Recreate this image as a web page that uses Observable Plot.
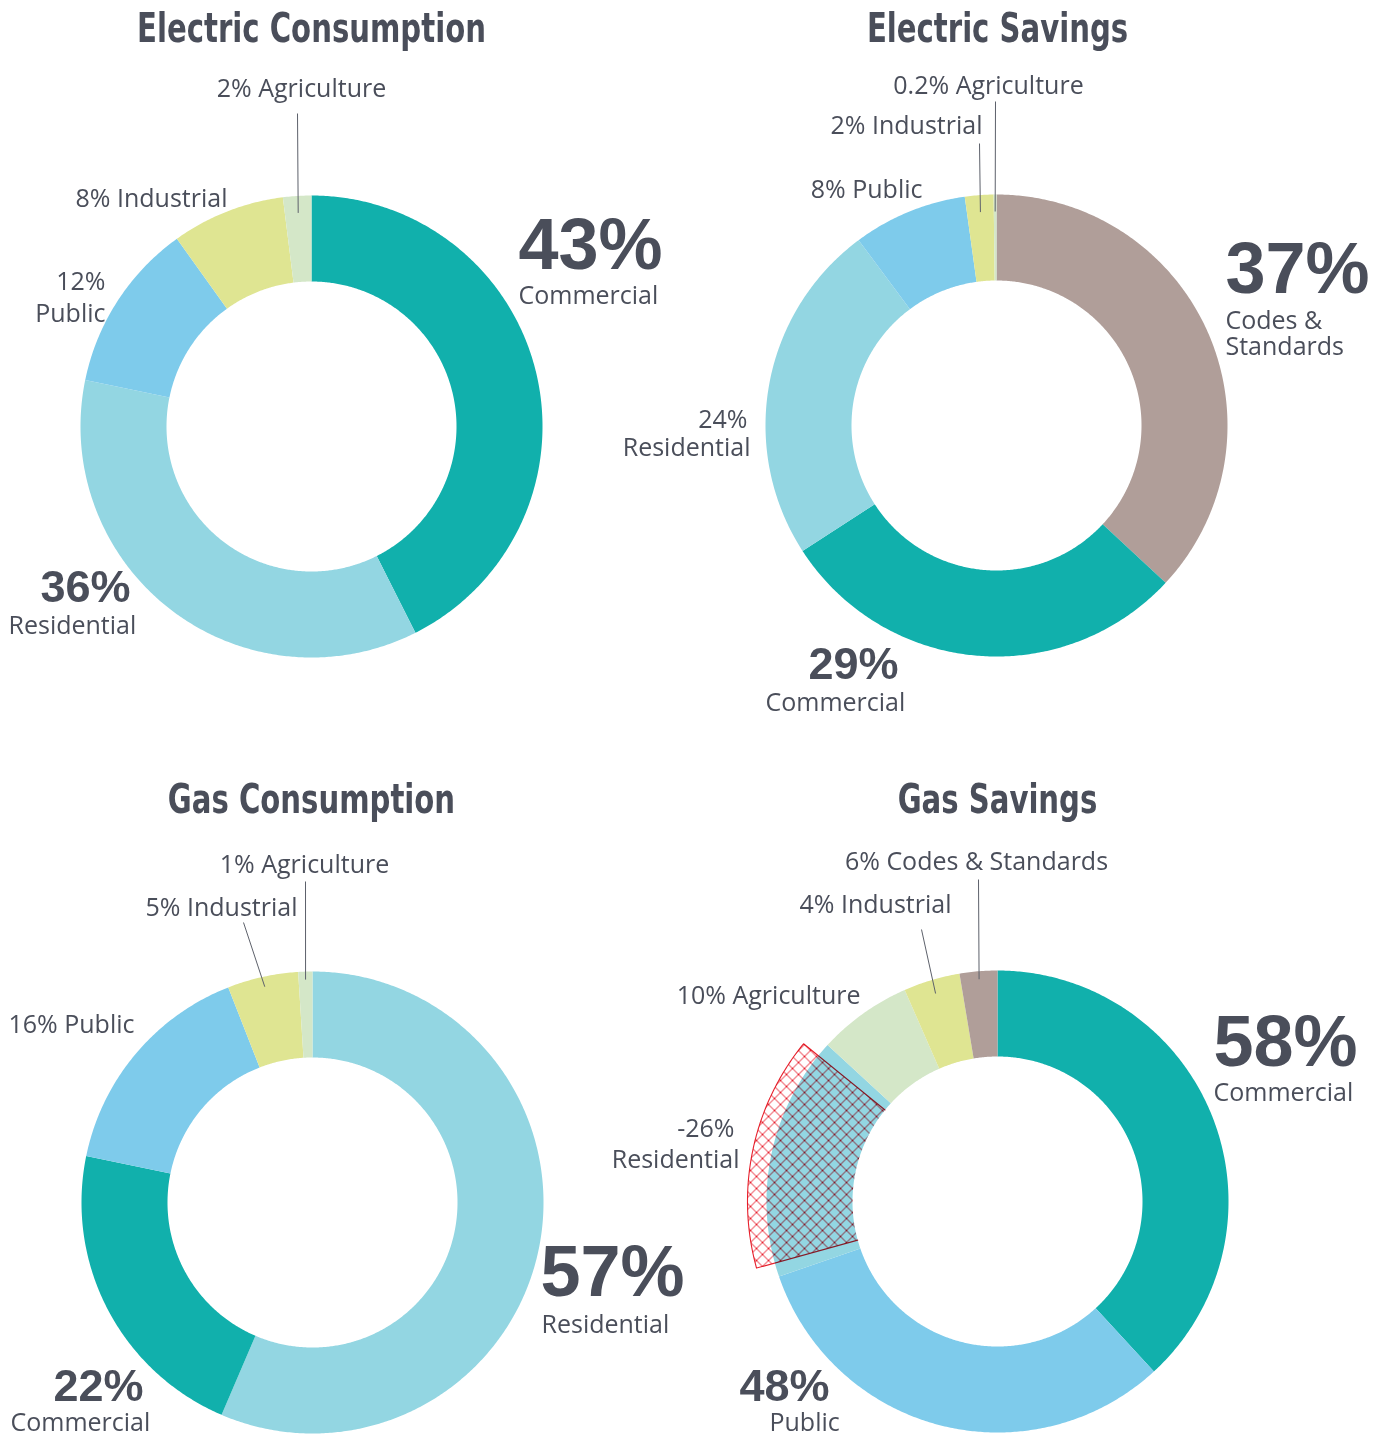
<!DOCTYPE html>
<html><head><meta charset="utf-8">
<script src="https://cdn.jsdelivr.net/npm/d3@7"></script>
<script src="https://cdn.jsdelivr.net/npm/@observablehq/plot@0.6"></script>
<style>
body{margin:0;background:#fff}
#chart svg{display:block}
g[font-family^="'DejaVu Sans Condensed'"]{font-stretch:condensed}
</style>
</head><body><div id="chart"></div>
<script>
// ---------- data ----------
const elecConsCategories = ["Commercial", "Residential", "Public", "Industrial", "Agriculture"];
const elecConsValues = [43, 36, 12, 8, 2];

const elecSavCategories = ["Codes & Standards", "Commercial", "Residential", "Public", "Industrial", "Agriculture"];
const elecSavValues = [37, 29, 24, 8, 2, 0.2];

const gasConsCategories = ["Residential", "Commercial", "Public", "Industrial", "Agriculture"];
const gasConsValues = [57, 22, 16, 5, 1];

const gasSavCategories = ["Commercial", "Public", "Residential", "Agriculture", "Industrial", "Codes & Standards"];
const gasSavValues = [58, 48, -26, 10, 4, 6];
// slice sizes as drawn in the Gas Savings ring (absolute shares)
const gasSavDrawn = [58, 48, 26, 10, 6, 4];

const chartTitles = ["Electric Consumption", "Electric Savings", "Gas Consumption", "Gas Savings"];

// ---------- styles / layout ----------
const palette = {
  "Commercial": "#11b0ac",
  "Residential": "#93d6e2",
  "Public": "#7ecbeb",
  "Industrial": "#dfe592",
  "Agriculture": "#d4e7c8",
  "Codes & Standards": "#b09e99"
};
const INK = "#4a4e5a";
const LINE = "#5d616b";
const HATCH = "#e8212e";
const R_OUT = 231, R_IN = 145;
const W = 1376, H = 1435;
const TITLE_WIDTH = 349; // rendered width of the first title in the reference

const charts = [
  {title: chartTitles[0], cats: elecConsCategories, sizes: elecConsValues, cx: 311, cy: 426},
  {title: chartTitles[1], cats: elecSavCategories, sizes: elecSavValues, cx: 996, cy: 425},
  {title: chartTitles[2], cats: gasConsCategories, sizes: gasConsValues, cx: 312, cy: 1202},
  {title: chartTitles[3], cats: gasSavCategories, sizes: gasSavDrawn, cx: 997, cy: 1201}
];

const pie = d3.pie().sort(null).startAngle(0).endAngle(2 * Math.PI);
const slicesByChart = charts.map(c => pie(c.sizes).map((a, i) => ({...a, cat: c.cats[i], chart: c})));

function arcPoints(key, color, c, a0, a1, r) {
  const pts = [];
  const n = Math.max(2, Math.ceil(Math.abs(a1 - a0) / (Math.PI / 360)));
  for (let k = 0; k <= n; k++) {
    const a = a0 + (a1 - a0) * k / n;
    pts.push({key, color, x: c.cx + r * Math.sin(a), y: c.cy - r * Math.cos(a)});
  }
  return pts;
}
function ringPoints(key, color, c, a0, a1, r0, r1) {
  return [...arcPoints(key, color, c, a0, a1, r1), ...arcPoints(key, color, c, a1, a0, r0)];
}

const slicePts = [];
slicesByChart.forEach((sl, ci) => sl.forEach((s, i) =>
  slicePts.push(...ringPoints(`${ci}-${i}`, palette[s.cat], s.chart, s.startAngle, s.endAngle, R_IN, R_OUT))));

// hatched overlay for the negative Residential share in Gas Savings
const resSlice = slicesByChart[3][gasSavValues.findIndex(v => v < 0)];
const inset = 3.5 * Math.PI / 180;
const hA0 = resSlice.startAngle + inset, hA1 = resSlice.endAngle - inset, hR = 250;
const hatchPts = ringPoints("hatch", "none", charts[3], hA0, hA1, R_IN, hR);
const hatchOutline = [
  ...arcPoints("o", "none", charts[3], hA0, hA0, R_IN).slice(0, 1),
  ...arcPoints("o", "none", charts[3], hA0, hA1, hR),
  ...arcPoints("o", "none", charts[3], hA1, hA1, R_IN).slice(0, 1)
];

// leader lines: from label to the middle of the slice
function sliceMid(ci, cat, r) {
  const s = slicesByChart[ci].find(d => d.cat === cat);
  const a = (s.startAngle + s.endAngle) / 2, c = charts[ci];
  return {x: c.cx + r * Math.sin(a), y: c.cy - r * Math.cos(a)};
}
const leaders = [
  {ci: 0, cat: "Agriculture", x1: 297, y1: 113, r: 214},
  {ci: 1, cat: "Agriculture", x1: 995, y1: 101, r: 214},
  {ci: 1, cat: "Industrial", x1: 979, y1: 143, r: 214},
  {ci: 2, cat: "Agriculture", x1: 305, y1: 881, r: 223},
  {ci: 2, cat: "Industrial", x1: 243, y1: 922, r: 221},
  {ci: 3, cat: "Codes & Standards", x1: 978, y1: 879, r: 223},
  {ci: 3, cat: "Industrial", x1: 921, y1: 929, r: 217}
].map(d => { const m = sliceMid(d.ci, d.cat, d.r); return {...d, x2: m.x, y2: m.y}; });

// text labels (kind: T = title, B = big percent, M = medium percent, S = small label)
const pct = v => `${v}%`;
const labels = [
  // Electric Consumption
  {t: chartTitles[0], x: 311, y: 41, a: "middle", k: "T"},
  {t: `${pct(elecConsValues[4])} Agriculture`, x: 301, y: 96, a: "middle", k: "S"},
  {t: `${pct(elecConsValues[3])} Industrial`, x: 227, y: 206, a: "end", k: "S"},
  {t: pct(elecConsValues[2]), x: 105, y: 289, a: "end", k: "S"},
  {t: "Public", x: 105, y: 321, a: "end", k: "S"},
  {t: pct(elecConsValues[0]), x: 518, y: 268, a: "start", k: "B"},
  {t: "Commercial", x: 518, y: 303, a: "start", k: "S"},
  {t: pct(elecConsValues[1]), x: 40, y: 601, a: "start", k: "M"},
  {t: "Residential", x: 8, y: 633, a: "start", k: "S"},
  // Electric Savings
  {t: chartTitles[1], x: 997, y: 41, a: "middle", k: "T"},
  {t: `${pct(elecSavValues[5])} Agriculture`, x: 988, y: 93, a: "middle", k: "S"},
  {t: `${pct(elecSavValues[4])} Industrial`, x: 982, y: 133, a: "end", k: "S"},
  {t: `${pct(elecSavValues[3])} Public`, x: 922, y: 197, a: "end", k: "S"},
  {t: pct(elecSavValues[0]), x: 1225, y: 292, a: "start", k: "B"},
  {t: "Codes &", x: 1225, y: 328, a: "start", k: "S"},
  {t: "Standards", x: 1225, y: 354, a: "start", k: "S"},
  {t: pct(elecSavValues[2]), x: 747, y: 427, a: "end", k: "S"},
  {t: "Residential", x: 750, y: 455, a: "end", k: "S"},
  {t: pct(elecSavValues[1]), x: 808, y: 678, a: "start", k: "M"},
  {t: "Commercial", x: 765, y: 710, a: "start", k: "S"},
  // Gas Consumption
  {t: chartTitles[2], x: 311, y: 812, a: "middle", k: "T"},
  {t: `${pct(gasConsValues[4])} Agriculture`, x: 304, y: 872, a: "middle", k: "S"},
  {t: `${pct(gasConsValues[3])} Industrial`, x: 297, y: 915, a: "end", k: "S"},
  {t: `${pct(gasConsValues[2])} Public`, x: 8, y: 1032, a: "start", k: "S"},
  {t: pct(gasConsValues[0]), x: 540, y: 1295, a: "start", k: "B"},
  {t: "Residential", x: 541, y: 1332, a: "start", k: "S"},
  {t: pct(gasConsValues[1]), x: 53, y: 1400, a: "start", k: "M"},
  {t: "Commercial", x: 10, y: 1430, a: "start", k: "S"},
  // Gas Savings
  {t: chartTitles[3], x: 997, y: 812, a: "middle", k: "T"},
  {t: `${pct(gasSavValues[5])} Codes & Standards`, x: 976, y: 869, a: "middle", k: "S"},
  {t: `${pct(gasSavValues[4])} Industrial`, x: 951, y: 912, a: "end", k: "S"},
  {t: `${pct(gasSavValues[3])} Agriculture`, x: 860, y: 1003, a: "end", k: "S"},
  {t: pct(gasSavValues[2]), x: 734, y: 1136, a: "end", k: "S"},
  {t: "Residential", x: 739, y: 1167, a: "end", k: "S"},
  {t: pct(gasSavValues[0]), x: 1213, y: 1065, a: "start", k: "B"},
  {t: "Commercial", x: 1213, y: 1100, a: "start", k: "S"},
  {t: pct(gasSavValues[1]), x: 739, y: 1400, a: "start", k: "M"},
  {t: "Public", x: 769, y: 1430, a: "start", k: "S"}
];

const kinds = {
  T: {fontSize: 41, fontWeight: 700, fontFamily: "'DejaVu Sans Condensed', 'DejaVu Sans', sans-serif"},
  B: {fontSize: 72, fontWeight: 700, fontFamily: "'Liberation Sans', Arial, sans-serif"},
  M: {fontSize: 45, fontWeight: 700, fontFamily: "'Liberation Sans', Arial, sans-serif"},
  S: {fontSize: 25, fontWeight: 400, fontFamily: "'Open Sans', 'Noto Sans', sans-serif"}
};

const textMarks = [];
for (const k of Object.keys(kinds)) for (const a of ["start", "middle", "end"]) {
  const sub = labels.filter(d => d.k === k && d.a === a);
  if (!sub.length) continue;
  textMarks.push(Plot.text(sub, {x: "x", y: "y", text: "t", textAnchor: a, lineAnchor: "bottom", fill: INK, ...kinds[k]}));
}

const svg = Plot.plot({
  width: W, height: H, margin: 0,
  x: {domain: [0, W], range: [0, W], axis: null},
  y: {domain: [0, H], range: [0, H], axis: null},
  color: {type: "identity"},
  style: {background: "#fff", overflow: "visible"},
  marks: [
    Plot.line(slicePts, {x: "x", y: "y", z: "key", fill: "color", stroke: "none", curve: "linear-closed"}),
    Plot.line(hatchPts, {x: "x", y: "y", fill: "url(#hatch)", stroke: "none", curve: "linear-closed", mixBlendMode: "multiply"}),
    Plot.line(hatchOutline, {x: "x", y: "y", stroke: HATCH, strokeWidth: 1.1, mixBlendMode: "multiply"}),
    Plot.link(leaders, {x1: "x1", y1: "y1", x2: "x2", y2: "y2", stroke: LINE, strokeWidth: 1}),
    ...textMarks
  ]
});

const ns = "http://www.w3.org/2000/svg";
const defs = document.createElementNS(ns, "defs");
const pat = document.createElementNS(ns, "pattern");
pat.setAttribute("id", "hatch");
pat.setAttribute("patternUnits", "userSpaceOnUse");
pat.setAttribute("width", "12");
pat.setAttribute("height", "12");
const p = document.createElementNS(ns, "path");
p.setAttribute("d", "M0,0L12,12M12,0L0,12");
p.setAttribute("stroke", HATCH);
p.setAttribute("stroke-width", "1");
p.setAttribute("fill", "none");
pat.appendChild(p);
defs.appendChild(pat);
svg.insertBefore(defs, svg.firstChild);

document.getElementById("chart").appendChild(svg);

// condense the bold titles horizontally to the reference's title width
const titleTexts = [...svg.querySelectorAll("text")].filter(t => chartTitles.includes(t.textContent));
if (titleTexts.length) {
  const w0 = titleTexts.find(t => t.textContent === chartTitles[0]).getComputedTextLength();
  const sx = w0 > 0 ? Math.min(1, TITLE_WIDTH / w0) : 1;
  for (const t of titleTexts) {
    const tr = t.getAttribute("transform") || "";
    t.setAttribute("transform", `${tr} scale(${sx},1)`);
  }
}
</script>
</body></html>
